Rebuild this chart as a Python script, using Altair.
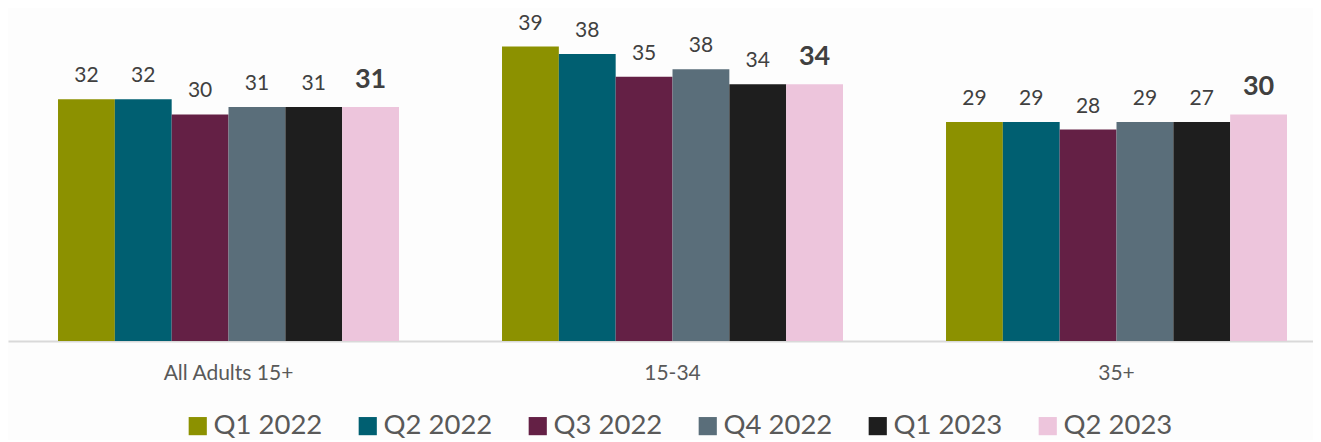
import altair as alt
import pandas as pd

groups = ["All Adults 15+", "15-34", "35+"]
quarters = ["Q1 2022", "Q2 2022", "Q3 2022", "Q4 2022", "Q1 2023", "Q2 2023"]
colors = ["#8C9100", "#005F71", "#642045", "#5A6E7A", "#1E1E1E", "#EDC5DC"]
bar_all = [32, 32, 30, 31, 31, 31]
bar_young = [39, 38, 35, 36, 34, 34]
bar_old = [29, 29, 28, 29, 29, 30]
label_all = [32, 32, 30, 31, 31, 31]
label_young = [39, 38, 35, 38, 34, 34]
label_old = [29, 29, 28, 29, 27, 30]

rows = []
for g, bars, labels in zip(groups, [bar_all, bar_young, bar_old], [label_all, label_young, label_old]):
    for q, b, l in zip(quarters, bars, labels):
        rows.append({"group": g, "quarter": q, "bar": b, "label": l})
df = pd.DataFrame(rows)

FONT = "Lato"
x = alt.X("group:N", sort=groups, title=None,
          scale=alt.Scale(paddingInner=0.232, paddingOuter=0.0856, align=0.658),
          axis=alt.Axis(labelAngle=0, labelFont=FONT, labelFontSize=21, labelColor="#595959",
                        labelPadding=21, ticks=False, domainColor="#D9D9D9", domainWidth=2, grid=False))
xo = alt.XOffset("quarter:N", sort=quarters,
                 scale=alt.Scale(domain=quarters, paddingInner=0, paddingOuter=0))
y = alt.Y("bar:Q", title=None, axis=None, scale=alt.Scale(domain=[0, 44.1], nice=False, zero=True))

bars = alt.Chart(df).mark_bar().encode(
    x=x, xOffset=xo, y=y,
    color=alt.Color("quarter:N", sort=quarters,
                    scale=alt.Scale(domain=quarters, range=colors),
                    legend=alt.Legend(title=None, orient="none", legendX=176, legendY=404,
                                      direction="horizontal", columns=6, symbolType="square",
                                      symbolSize=330, symbolStrokeWidth=0, symbolOpacity=1,
                                      labelFont=FONT, labelFontSize=27.5, labelColor="#595959",
                                      labelOffset=2, columnPadding=31, labelLimit=200, padding=0)),
)
normal = alt.Chart(df[df.quarter != "Q2 2023"]).mark_text(
    font=FONT, fontSize=21, color="#404040", dy=-23, baseline="middle"
).encode(x=x, xOffset=xo, y=y, text="label:Q")
bold = alt.Chart(df[df.quarter == "Q2 2023"]).mark_text(
    font=FONT, fontSize=27, fontWeight="bold", color="#404040", dy=-27, baseline="middle"
).encode(x=x, xOffset=xo, y=y, text="label:Q")

chart = (bars + normal + bold).properties(
    width=1305, height=333, padding=0, background="#FDFDFD"
).configure_view(stroke=None)
chart.save("out.html", embed_options={"renderer": "svg", "actions": False})
